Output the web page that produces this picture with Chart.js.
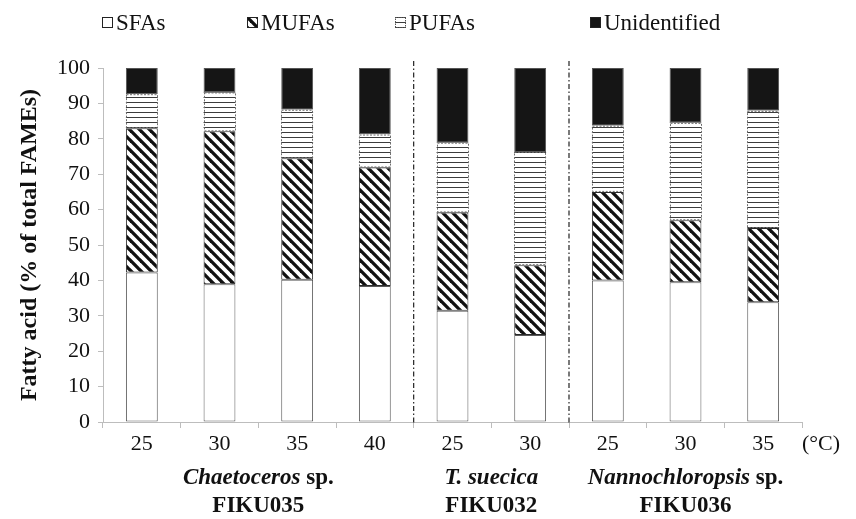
<!DOCTYPE html>
<html>
<head>
<meta charset="utf-8">
<script src="https://cdn.jsdelivr.net/npm/chart.js@4/dist/chart.umd.min.js"></script>
<style>
  html, body { margin: 0; padding: 0; background: #ffffff; }
  canvas { display: block; }
</style>
</head>
<body>
<canvas id="chart" width="856" height="519"></canvas>
<script>
// Culture temperatures (°C) for each bar
const temperatures = ['25', '30', '35', '40', '25', '30', '25', '30', '35'];

// Fatty acid composition (% of total FAMEs)
const sfa          = [42.2, 38.9, 40.2, 38.4, 31.4, 24.6, 40.0, 39.5, 33.8];
const mufa         = [40.8, 43.2, 34.3, 33.5, 27.8, 19.7, 25.0, 17.5, 21.0];
const pufa         = [ 9.6, 11.0, 13.7,  9.3, 19.7, 32.0, 18.7, 27.5, 33.1];
const unidentified = [ 7.4,  6.9, 11.8, 18.8, 21.1, 23.7, 16.3, 15.5, 12.1];

// Species groups along the x axis
const speciesNames  = ['Chaetoceros', 'T. suecica', 'Nannochloropsis'];
const speciesSuffix = [' sp.', '', ' sp.'];
const strainCodes   = ['FIKU035', 'FIKU032', 'FIKU036'];
const groupSizes    = [4, 2, 3];

// Y axis tick settings
const yMin = 0, yMax = 100, yStep = 10;

const FONT = "'Liberation Serif', 'Times New Roman', serif";
const canvas = document.getElementById('chart');
const ctx = canvas.getContext('2d');

// Diagonal "\" hatch for MUFAs
function makeHatch() {
  const t = document.createElement('canvas');
  t.width = 10; t.height = 10;
  const g = t.getContext('2d');
  g.fillStyle = '#ffffff';
  g.fillRect(0, 0, 10, 10);
  g.strokeStyle = '#111111';
  g.lineWidth = 3.3;
  for (const o of [-10, 0, 10]) {
    g.beginPath();
    g.moveTo(o - 2, -2);
    g.lineTo(o + 12, 12);
    g.stroke();
  }
  return ctx.createPattern(t, 'repeat');
}

// Horizontal ruling for PUFAs
function makeRuling() {
  const t = document.createElement('canvas');
  t.width = 4; t.height = 5;
  const g = t.getContext('2d');
  g.fillStyle = '#ffffff';
  g.fillRect(0, 0, 4, 5);
  g.fillStyle = '#3c3c3c';
  g.fillRect(0, 2, 4, 1);
  return ctx.createPattern(t, 'repeat');
}

const hatch = makeHatch();
const ruling = makeRuling();

// Dashed outline around the PUFA segments
const dashedOutline = {
  id: 'dashedOutline',
  afterDatasetsDraw(chart) {
    const meta = chart.getDatasetMeta(2);
    const c = chart.ctx;
    c.save();
    c.strokeStyle = '#6e6e6e';
    c.lineWidth = 1;
    c.setLineDash([2, 1.5]);
    meta.data.forEach(el => {
      const p = el.getProps(['x', 'y', 'base', 'width'], true);
      const left = Math.round(p.x - p.width / 2) + 0.5;
      const w = Math.round(p.width) - 1;
      c.strokeRect(left, p.y + 0.5, w, p.base - p.y - 1);
    });
    c.restore();
  }
};

// Dash-dot separators between species, species names, and legend
const decorations = {
  id: 'decorations',
  afterDraw(chart) {
    const c = chart.ctx;
    const xs = chart.scales.x;
    const area = chart.chartArea;

    // separators
    c.save();
    c.strokeStyle = '#222222';
    c.lineWidth = 1.2;
    c.setLineDash([5, 2.5, 1.5, 2.5]);
    let idx = 0;
    for (let g = 0; g < groupSizes.length - 1; g++) {
      idx += groupSizes[g];
      const x = (xs.getPixelForValue(idx - 1) + xs.getPixelForValue(idx)) / 2;
      c.beginPath();
      c.moveTo(x, area.top - 7);
      c.lineTo(x, area.bottom + 2);
      c.stroke();
    }
    c.restore();

    // species / strain labels
    c.save();
    c.fillStyle = '#111111';
    c.textBaseline = 'alphabetic';
    let start = 0;
    for (let g = 0; g < groupSizes.length; g++) {
      const end = start + groupSizes[g] - 1;
      const cx = (xs.getPixelForValue(start) + xs.getPixelForValue(end)) / 2;
      const italic = 'italic bold 23px ' + FONT;
      const plain = 'bold 23px ' + FONT;
      c.font = italic;
      const w1 = c.measureText(speciesNames[g]).width;
      c.font = plain;
      const w2 = c.measureText(speciesSuffix[g]).width;
      let x0 = cx - (w1 + w2) / 2;
      c.textAlign = 'left';
      c.font = italic;
      c.fillText(speciesNames[g], x0, 484);
      c.font = plain;
      c.fillText(speciesSuffix[g], x0 + w1, 484);
      c.textAlign = 'center';
      c.fillText(strainCodes[g], cx, 512);
      start += groupSizes[g];
    }
    // unit label
    c.font = '22px ' + FONT;
    c.textAlign = 'left';
    c.fillText('(°C)', 802, 450);
    c.restore();

    // legend
    c.save();
    const iconX = [102, 247, 395, 590];
    const iconY = 17, s = 11;
    c.font = '23px ' + FONT;
    c.textBaseline = 'alphabetic';
    c.textAlign = 'left';
    chart.data.datasets.forEach((ds, i) => {
      const x = iconX[i];
      c.fillStyle = ds.backgroundColor;
      c.fillRect(x, iconY, s, s);
      c.lineWidth = 1;
      if (i === 2) {
        c.setLineDash([1.5, 1]);
        c.strokeStyle = '#555555';
      } else {
        c.setLineDash([]);
        c.strokeStyle = '#222222';
      }
      c.strokeRect(x + 0.5, iconY + 0.5, s - 1, s - 1);
      c.setLineDash([]);
      c.fillStyle = '#111111';
      c.fillText(ds.label, x + s + 3, 30);
    });
    c.restore();
  }
};

new Chart(ctx, {
  type: 'bar',
  data: {
    labels: temperatures,
    datasets: [
      { label: 'SFAs', data: sfa, backgroundColor: '#ffffff', borderColor: '#5a5a5a', borderWidth: 1, borderSkipped: false },
      { label: 'MUFAs', data: mufa, backgroundColor: hatch, borderColor: '#2a2a2a', borderWidth: 1, borderSkipped: false },
      { label: 'PUFAs', data: pufa, backgroundColor: ruling, borderWidth: 0 },
      { label: 'Unidentified', data: unidentified, backgroundColor: '#151515', borderColor: '#555555', borderWidth: 1, borderSkipped: false }
    ]
  },
  options: {
    responsive: false,
    animation: false,
    devicePixelRatio: 1,
    layout: { padding: { top: 68, right: 54, bottom: 0, left: 0 } },
    datasets: { bar: { barPercentage: 0.41, categoryPercentage: 1 } },
    plugins: { legend: { display: false }, tooltip: { enabled: false } },
    scales: {
      x: {
        stacked: true,
        offset: true,
        grid: { display: true, drawOnChartArea: false, drawTicks: true, tickLength: 6, color: '#bdbdbd', offset: true },
        border: { color: '#bdbdbd' },
        ticks: { font: { family: FONT, size: 22 }, color: '#111111', padding: 3, maxRotation: 0, autoSkip: false },
        afterFit(scale) { scale.height = 97; }
      },
      y: {
        stacked: true,
        min: yMin,
        max: yMax,
        ticks: { stepSize: yStep, font: { family: FONT, size: 22 }, color: '#111111', padding: 8 },
        grid: { display: true, drawOnChartArea: false, drawTicks: true, tickLength: 5, color: '#bdbdbd' },
        border: { color: '#bdbdbd' },
        title: {
          display: true,
          text: 'Fatty acid (% of total FAMEs)',
          font: { family: FONT, size: 24, weight: 'bold' },
          color: '#111111',
          padding: { top: 15, bottom: 0 }
        },
        afterFit(scale) { scale.width = 103; }
      }
    }
  },
  plugins: [dashedOutline, decorations]
});
</script>
</body>
</html>
